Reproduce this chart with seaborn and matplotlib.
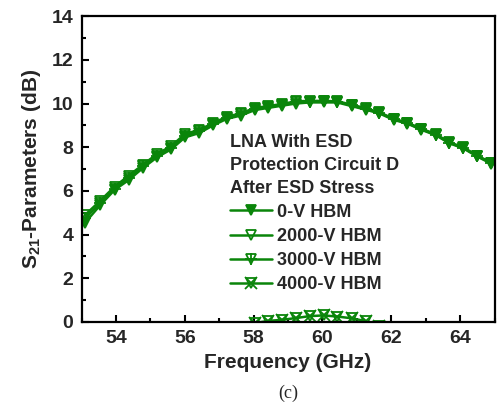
import matplotlib
matplotlib.use('Agg')
import matplotlib.pyplot as plt
import seaborn as sns
import pandas as pd
from matplotlib.lines import Line2D
from matplotlib.legend_handler import HandlerTuple
from matplotlib.ticker import MultipleLocator

# data
freq = [53.1, 53.54, 53.96, 54.37, 54.78, 55.2, 55.6, 56.0, 56.42, 56.82,
        57.22, 57.63, 58.03, 58.42, 58.82, 59.23, 59.63, 60.03, 60.43, 60.85,
        61.25, 61.65, 62.07, 62.47, 62.87, 63.29, 63.69, 64.09, 64.49, 64.9]
s21_0v = [4.55, 5.35, 6.05, 6.5, 7.05, 7.55, 7.9, 8.45, 8.65, 9.0,
          9.3, 9.45, 9.7, 9.8, 9.9, 10.0, 10.05, 10.05, 10.05, 9.88,
          9.72, 9.55, 9.25, 9.08, 8.8, 8.55, 8.18, 7.95, 7.58, 7.25]
s21_2000v = [4.9, 5.55, 6.2, 6.7, 7.2, 7.7, 8.05, 8.6, 8.8, 9.1,
             9.4, 9.55, 9.8, 9.88, 9.98, 10.1, 10.12, 10.12, 10.1, 9.95,
             9.78, 9.6, 9.3, 9.12, 8.85, 8.6, 8.22, 8.0, 7.62, 7.3]
s21_3000v = [4.75, 5.45, 6.1, 6.6, 7.12, 7.62, 7.98, 8.52, 8.72, 9.05,
             9.35, 9.5, 9.75, 9.84, 9.94, 10.05, 10.08, 10.1, 10.08, 9.92,
             9.75, 9.58, 9.28, 9.1, 8.82, 8.58, 8.2, 7.98, 7.6, 7.28]
s21_4000v = [-7.9, -7.0, -6.1, -5.3, -4.6, -3.9, -3.3, -2.7, -2.1, -1.5,
             -0.9, -0.35, -0.05, 0.05, 0.1, 0.18, 0.27, 0.3, 0.25, 0.17,
             0.04, -0.2, -0.6, -1.1, -1.7, -2.4, -3.1, -3.9, -4.7, -5.5]
labels = ['0-V HBM', '2000-V HBM', '3000-V HBM', '4000-V HBM']
legend_title = 'LNA With ESD\nProtection Circuit D\nAfter ESD Stress'

green = '#0a850a'

sns.set_style('ticks')
plt.rcParams['font.family'] = ['Liberation Sans', 'DejaVu Sans']
plt.rcParams['font.weight'] = 'bold'
plt.rcParams['mathtext.fontset'] = 'custom'
plt.rcParams['mathtext.rm'] = 'Liberation Sans:bold'
plt.rcParams['mathtext.it'] = 'Liberation Sans:bold'
plt.rcParams['mathtext.bf'] = 'Liberation Sans:bold'

df = pd.DataFrame({'freq': freq, 'v0': s21_0v, 'v2000': s21_2000v,
                   'v3000': s21_3000v, 'v4000': s21_4000v})

fig = plt.figure(figsize=(4.98, 4.03), dpi=100)
ax = fig.add_axes([0.164, 0.201, 0.829, 0.759])

# (column, main marker, face colour, overlay marker)
series = [('v0', 'v', green, None),
          ('v2000', 'v', 'none', None),
          ('v3000', 'v', 'none', '+'),
          ('v4000', 'v', 'none', 'x')]

handles = []
for (col, mk, fc, extra), lab in zip(series, labels):
    sns.lineplot(data=df, x='freq', y=col, ax=ax, color=green, lw=1.8,
                 marker=mk, markersize=7.5, markerfacecolor=fc,
                 markeredgecolor=green, markeredgewidth=1.3, legend=False)
    h = [Line2D([], [], color=green, lw=1.8, marker=mk, markersize=7.5,
                markerfacecolor=fc, markeredgecolor=green, markeredgewidth=1.3)]
    if extra:
        sns.lineplot(data=df, x='freq', y=col, ax=ax, color=green, lw=0,
                     marker=extra, markersize=8, markeredgecolor=green,
                     markeredgewidth=1.3, legend=False)
        h.append(Line2D([], [], lw=0, marker=extra, markersize=8,
                        color=green, markeredgewidth=1.3))
    handles.append(tuple(h))

ax.set_xlim(53, 65)
ax.set_ylim(0, 14)
ax.xaxis.set_major_locator(MultipleLocator(2))
ax.xaxis.set_minor_locator(MultipleLocator(1))
ax.yaxis.set_major_locator(MultipleLocator(2))
ax.yaxis.set_minor_locator(MultipleLocator(1))
ax.tick_params(which='both', direction='in', top=False, right=False,
               width=1.5, color='black', labelsize=14, pad=6)
ax.tick_params(which='major', length=5)
ax.tick_params(which='minor', length=3)
for sp in ax.spines.values():
    sp.set_visible(True)
    sp.set_linewidth(1.6)
    sp.set_color('black')

ax.set_xlabel('Frequency (GHz)', fontsize=15, fontweight='bold', labelpad=4)
ax.set_ylabel(r'S$_{21}$-Parameters (dB)', fontsize=15, fontweight='bold', labelpad=6)

leg = ax.legend(handles, labels, title=legend_title, loc='upper left',
                bbox_to_anchor=(0.36, 0.615), frameon=False, borderpad=0,
                borderaxespad=0, handlelength=2.3, handletextpad=0.3,
                labelspacing=0.4, alignment='left',
                handler_map={tuple: HandlerTuple(ndivide=1)},
                prop={'size': 13, 'weight': 'bold'},
                title_fontproperties={'size': 13, 'weight': 'bold'})
leg.get_title().set_linespacing(1.45)

fig.text(0.578, 0.025, '(c)', ha='center', va='center', fontsize=13,
         family='Liberation Serif', fontweight='normal')

fig.savefig('out.png', dpi=100)
